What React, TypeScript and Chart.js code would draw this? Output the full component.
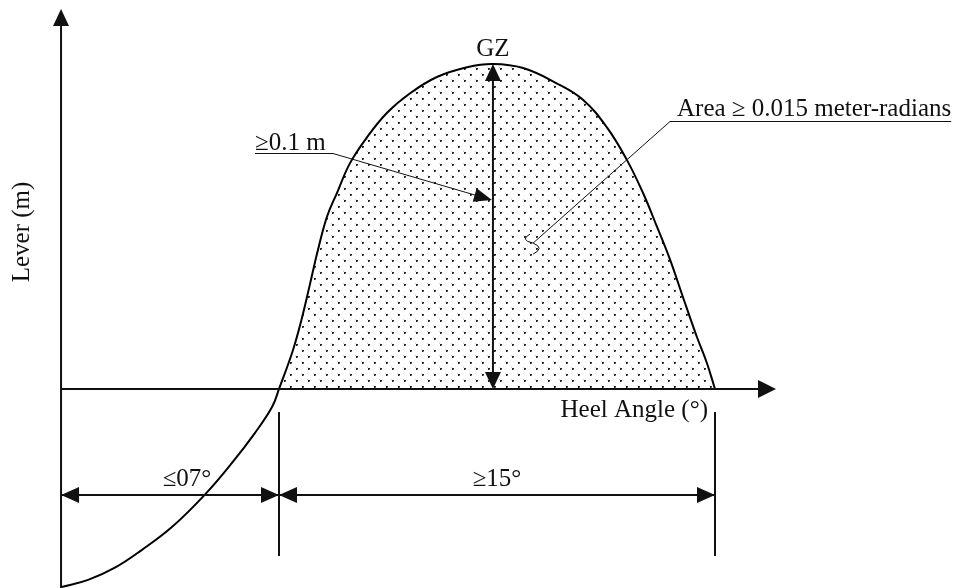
import { useEffect, useRef } from "react";
import { Chart, registerables } from "chart.js";

Chart.register(...registerables);

// GZ (righting lever) curve: heel angle in degrees, lever in metres
const heelAngles = [
  0, 0.87, 1.73, 2.6, 3.56, 4.62, 5.49, 6.23, 6.78, 7.0,
  7.45, 7.74, 8.0, 8.25, 8.54, 8.86, 9.28, 9.83, 10.47, 11.21,
  12.07, 13.04, 13.87, 14.84, 15.93, 16.76, 17.53, 18.17, 18.69, 19.14,
  19.56, 19.97, 20.42, 20.74, 21.0,
];
const leverValues = [
  -0.122, -0.1175, -0.11, -0.099, -0.085, -0.065, -0.0455, -0.027, -0.011, 0,
  0.024, 0.044, 0.065, 0.0855, 0.106, 0.1206, 0.139, 0.155, 0.17, 0.182,
  0.192, 0.198, 0.2, 0.1975, 0.188, 0.178, 0.161, 0.141, 0.1206, 0.0997,
  0.0794, 0.0566, 0.032, 0.016, 0,
];

// Criteria dimensions along the heel-angle axis (degrees)
const dimensionBounds = [0, 7, 21];
const dimensionLabels = ["≤07°", "≥15°"];

// GZ peak and annotation anchors (degrees, metres)
const gzPeakAngle = 13.87;
const gzPeakLever = 0.2;
const minGzPointerLever = 0.1163;
const areaPointer = [15.16, 0.0898];

// Texts
const gzLabel = "GZ";
const minGzLabel = "≥0.1 m";
const areaLabel = "Area ≥ 0.015 meter-radians";
const xAxisTitle = "Heel Angle (°)";
const yAxisTitle = "Lever (m)";

// Scale ranges
const X_MIN = -1.96;
const X_MAX = 28.74;
const Y_MIN = -0.1225;
const Y_MAX = 0.2394;
const X_AXIS_END = 22.96;
const Y_AXIS_END = 0.2339;
const DIM_LEVEL = -0.0652;
const EXT_TOP = -0.0142;
const EXT_BOTTOM = -0.1028;

const INK = "#111";
const FONT = '25px "Liberation Serif", "Times New Roman", serif';

function makeDotPattern(ctx: CanvasRenderingContext2D): CanvasPattern | string {
  const c = document.createElement("canvas");
  c.width = 12;
  c.height = 12;
  const p = c.getContext("2d");
  if (!p) return "rgba(0,0,0,0.1)";
  const dots = [
    [2, 2],
    [8, 8],
  ];
  for (const [x, y] of dots) {
    p.fillStyle = "#222";
    p.fillRect(x, y, 2, 1);
    p.fillRect(x, y + 1, 1, 1);
    p.fillStyle = "#777";
    p.fillRect(x + 1, y + 1, 1, 1);
    p.fillStyle = "#d0d0d0";
    p.fillRect(x - 1, y - 1, 1, 1);
  }
  return ctx.createPattern(c, "repeat") || "rgba(0,0,0,0.1)";
}

const schematicPlugin = {
  id: "schematic",
  afterDatasetsDraw(chart: any) {
    const ctx: CanvasRenderingContext2D = chart.ctx;
    const X = (v: number) => chart.scales.x.getPixelForValue(v);
    const Y = (v: number) => chart.scales.y.getPixelForValue(v);

    const line = (x1: number, y1: number, x2: number, y2: number, w: number) => {
      ctx.beginPath();
      ctx.lineWidth = w;
      ctx.strokeStyle = INK;
      ctx.moveTo(x1, y1);
      ctx.lineTo(x2, y2);
      ctx.stroke();
    };
    const head = (tx: number, ty: number, fx: number, fy: number, len: number, half: number) => {
      const dx = tx - fx;
      const dy = ty - fy;
      const d = Math.hypot(dx, dy) || 1;
      const ux = dx / d;
      const uy = dy / d;
      const bx = tx - ux * len;
      const by = ty - uy * len;
      ctx.beginPath();
      ctx.fillStyle = INK;
      ctx.moveTo(tx, ty);
      ctx.lineTo(bx - uy * half, by + ux * half);
      ctx.lineTo(bx + uy * half, by - ux * half);
      ctx.closePath();
      ctx.fill();
    };

    ctx.save();
    const ox = X(0);
    const oy = Y(0);

    // Axes with arrowheads
    line(ox, chart.chartArea.bottom, ox, Y(Y_AXIS_END) + 14, 2);
    head(ox, Y(Y_AXIS_END), ox, oy, 17, 8);
    line(ox, oy, X(X_AXIS_END) - 14, oy, 2);
    head(X(X_AXIS_END), oy, ox, oy, 18, 9);

    // GZ double arrow
    const gx = X(gzPeakAngle);
    const gt = Y(gzPeakLever);
    line(gx, gt + 12, gx, oy - 12, 2);
    head(gx, gt, gx, oy, 17, 8);
    head(gx, oy, gx, gt, 17, 8);

    // Dimension lines
    const dy = Y(DIM_LEVEL);
    const bx = dimensionBounds.map(X);
    for (let i = 1; i < bx.length; i++) {
      line(bx[i], Y(EXT_TOP), bx[i], Y(EXT_BOTTOM), 2);
    }
    line(bx[0], dy, bx[bx.length - 1], dy, 2);
    for (let i = 0; i < bx.length - 1; i++) {
      head(bx[i], dy, bx[i + 1], dy, 18, 8);
      head(bx[i + 1], dy, bx[i], dy, 18, 8);
    }

    // Texts
    ctx.font = FONT;
    ctx.fillStyle = INK;
    ctx.textBaseline = "alphabetic";

    ctx.textAlign = "center";
    ctx.fillText(gzLabel, gx, gt - 8);

    const labelCenters = [187, 497];
    for (let i = 0; i < dimensionLabels.length; i++) {
      ctx.fillText(dimensionLabels[i], labelCenters[i], dy - 9);
    }

    ctx.textAlign = "right";
    ctx.fillText(xAxisTitle, 708, oy + 28);

    // y axis title (rotated)
    ctx.save();
    ctx.translate(29, 232);
    ctx.rotate(-Math.PI / 2);
    ctx.textAlign = "center";
    ctx.fillText(yAxisTitle, 0, 0);
    ctx.restore();

    // "≥0.1 m" leader with arrow
    ctx.textAlign = "left";
    const tipX = gx - 1;
    const tipY = Y(minGzPointerLever);
    const labX = 255;
    const labY = 150;
    ctx.fillText(minGzLabel, labX, labY);
    const w1 = ctx.measureText(minGzLabel).width;
    const ulEnd = Math.max(333, labX + w1);
    line(labX, labY + 3.5, ulEnd, labY + 3.5, 1);
    line(ulEnd, labY + 3.5, tipX - 12, tipY - 3.5, 1);
    head(tipX, tipY, ulEnd, labY + 3.5, 18, 7);

    // Area leader
    const aX = 677;
    const aY = 116;
    ctx.fillText(areaLabel, aX, aY);
    const w2 = ctx.measureText(areaLabel).width;
    line(670, aY + 5.5, Math.max(948, aX + w2), aY + 5.5, 1);
    const px = X(areaPointer[0]);
    const py = Y(areaPointer[1]);
    line(670, aY + 5.5, px, py, 1);
    ctx.beginPath();
    ctx.lineWidth = 1;
    ctx.strokeStyle = INK;
    ctx.moveTo(px - 3, py - 9);
    ctx.quadraticCurveTo(px - 14, py - 3, px, py);
    ctx.quadraticCurveTo(px + 12, py + 5, px, py + 11);
    ctx.stroke();

    ctx.restore();
  },
};

export default function App() {
  const canvasRef = useRef<HTMLCanvasElement | null>(null);

  useEffect(() => {
    const canvas = canvasRef.current;
    if (!canvas) return;
    const ctx = canvas.getContext("2d");
    if (!ctx) return;
    const pattern = makeDotPattern(ctx);

    const chart = new Chart(ctx, {
      type: "scatter",
      data: {
        datasets: [
          {
            label: "GZ",
            data: heelAngles.map((a, i) => ({ x: a, y: leverValues[i] })),
            showLine: true,
            borderColor: "#000",
            borderWidth: 2,
            pointRadius: 0,
            tension: 0.4,
            fill: { target: "origin", above: pattern as any, below: "rgba(0,0,0,0)" },
          } as any,
        ],
      },
      options: {
        responsive: false,
        animation: false,
        devicePixelRatio: 1,
        events: [],
        layout: { padding: 0 },
        plugins: {
          legend: { display: false },
          tooltip: { enabled: false },
          filler: { propagate: false },
        },
        scales: {
          x: { type: "linear", min: X_MIN, max: X_MAX, display: false },
          y: { type: "linear", min: Y_MIN, max: Y_MAX, display: false },
        },
      },
      plugins: [schematicPlugin],
    });
    return () => chart.destroy();
  }, []);

  return (
    <div style={{ position: "fixed", left: 0, top: 0, width: 956, height: 588, background: "#fff" }}>
      <canvas ref={canvasRef} width={956} height={588} style={{ display: "block" }} />
    </div>
  );
}
